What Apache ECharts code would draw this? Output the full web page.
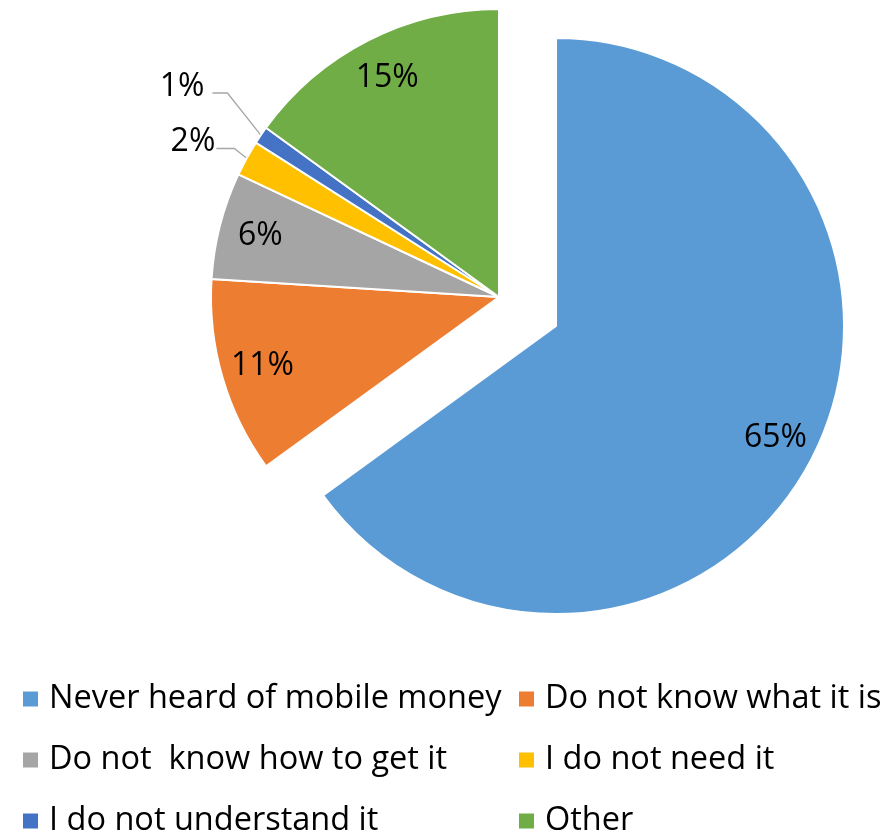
<!DOCTYPE html>
<html>
<head>
<meta charset="utf-8">
<title>Reasons for not using mobile money</title>
<script src="https://cdn.jsdelivr.net/npm/echarts@6/dist/echarts.min.js"></script>
<style>
  html, body { margin: 0; padding: 0; background: #ffffff; }
  #chart { width: 890px; height: 835px; }
</style>
</head>
<body>
<div id="chart"></div>
<script>
// Survey answers, in clockwise order starting at 12 o'clock
const categories = [
  'Never heard of mobile money',
  'Do not know what it is',
  'Do not  know how to get it',
  'I do not need it',
  'I do not understand it',
  'Other'
];
const shares = [65, 11, 6, 2, 1, 15];
const colors = ['#5B9BD5', '#ED7D31', '#A5A5A5', '#FFC000', '#4472C4', '#70AD47'];

// Leader-line lengths for the slices labelled outside the pie
const leaderLines = { 3: { length: 14, length2: 18 }, 4: { length: 50, length2: 15 } };
// Post-layout nudges: "line" moves the bend and end of the leader, "text" moves the label
const labelNudge = {
  3: { line: [0, -3], text: [4, -10] },
  4: { line: [8, -14], text: [5, -20] }
};

const FONT = '"Open Sans", "Noto Sans", sans-serif';
const CENTER = [499, 297];
const RADIUS = 288;
const OUTSIDE_LIMIT = 5;

// Legend grid: two columns, three rows, filled row by row
const LEGEND_COLS = [21, 517];
const LEGEND_ROW_TOP = 679;
const LEGEND_ROW_STEP = 61;
const LEGEND_LINE = 40;

const chart = echarts.init(document.getElementById('chart'), null, { renderer: 'canvas' });

// Visible pie: small slices carry their own outside labels
const pieData = categories.map((name, i) => {
  const outside = shares[i] < OUTSIDE_LIMIT;
  return {
    name: name,
    value: shares[i],
    selected: i === 0,
    itemStyle: { color: colors[i] },
    label: { show: outside },
    labelLine: outside ? Object.assign({ show: true }, leaderLines[i]) : { show: false }
  };
});

// Transparent ring used only to place the inside labels further out
const ringData = categories.map((name, i) => ({
  name: name,
  value: shares[i],
  selected: i === 0,
  label: { show: shares[i] >= OUTSIDE_LIMIT }
}));

// One single-entry legend per category, laid out on the grid
const legends = categories.map((name, i) => ({
  orient: 'horizontal',
  left: LEGEND_COLS[i % 2],
  top: LEGEND_ROW_TOP + Math.floor(i / 2) * LEGEND_ROW_STEP,
  padding: 0,
  icon: 'rect',
  itemWidth: 17,
  itemHeight: 17,
  selectedMode: false,
  data: [name],
  textStyle: {
    fontFamily: FONT,
    fontSize: 32.5,
    color: '#000000',
    lineHeight: LEGEND_LINE,
    padding: [0, 0, 0, 5]
  }
}));

chart.setOption({
  backgroundColor: '#ffffff',
  animation: false,
  legend: legends,
  series: [
    {
      type: 'pie',
      center: CENTER,
      radius: RADIUS,
      startAngle: 90,
      clockwise: true,
      selectedMode: 'single',
      selectedOffset: 64,
      avoidLabelOverlap: false,
      itemStyle: { borderColor: '#ffffff', borderWidth: 2 },
      label: {
        position: 'outside',
        formatter: '{c}%',
        fontFamily: FONT,
        fontSize: 32,
        color: '#000000',
        distanceToLabelLine: 5
      },
      labelLine: {
        lineStyle: { color: '#A6A6A6', width: 1.3 }
      },
      labelLayout: function (params) {
        const nudge = labelNudge[params.dataIndex];
        if (!nudge || !params.labelLinePoints) {
          return {};
        }
        const pts = params.labelLinePoints.map((p, k) =>
          k === 0 ? [p[0], p[1]] : [p[0] + nudge.line[0], p[1] + nudge.line[1]]
        );
        return { dx: nudge.text[0], dy: nudge.text[1], labelLinePoints: pts };
      },
      emphasis: { disabled: true },
      data: pieData
    },
    {
      type: 'pie',
      center: CENTER,
      radius: [RADIUS * 0.69, RADIUS],
      startAngle: 90,
      clockwise: true,
      selectedMode: 'single',
      selectedOffset: 64,
      silent: true,
      z: 3,
      avoidLabelOverlap: false,
      itemStyle: { color: 'rgba(0,0,0,0)', borderWidth: 0 },
      label: {
        position: 'inside',
        formatter: '{c}%',
        fontFamily: FONT,
        fontSize: 32,
        color: '#000000'
      },
      labelLine: { show: false },
      emphasis: { disabled: true },
      data: ringData
    }
  ]
});
</script>
</body>
</html>
